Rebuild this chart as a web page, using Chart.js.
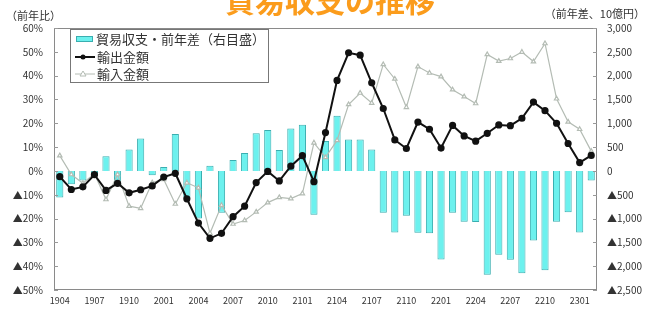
<!DOCTYPE html>
<html>
<head>
<meta charset="utf-8">
<script src="https://cdn.jsdelivr.net/npm/chart.js@4/dist/chart.umd.min.js"></script>
<style>
html, body { margin: 0; padding: 0; background: #fff; }
#wrap { position: relative; width: 657px; height: 309px; }
</style>
</head>
<body>
<div id="wrap"><canvas id="tradeChart" width="657" height="309"></canvas></div>
<script>
var months = [
    '1904','1905','1906','1907','1908','1909','1910','1911','1912',
    '2001','2002','2003','2004','2005','2006','2007','2008','2009','2010','2011','2012',
    '2101','2102','2103','2104','2105','2106','2107','2108','2109','2110','2111','2112',
    '2201','2202','2203','2204','2205','2206','2207','2208','2209','2210','2211','2212',
    '2301','2302'
];

// 輸出金額 前年比 (%)
var exportsYoY = [
    -2.4, -7.8, -6.7, -1.6, -8.2, -5.2, -9.2, -7.9, -6.3,
    -2.6, -1.0, -11.7, -21.9, -28.3, -26.2, -19.2, -14.8, -4.9, -0.2, -4.2, 2.0,
    6.4, -4.5, 16.1, 38.0, 49.6, 48.6, 37.0, 26.2, 13.0, 9.4, 20.5, 17.5,
    9.6, 19.1, 14.7, 12.5, 15.8, 19.3, 19.0, 22.1, 28.9, 25.3, 20.0, 11.5,
    3.5, 6.5
];

// 輸入金額 前年比 (%)
var importsYoY = [
    6.4, -1.5, -5.2, -1.2, -12.0, -1.5, -14.8, -15.7, -4.9,
    -3.6, -13.9, -5.0, -7.1, -26.2, -14.4, -22.3, -20.8, -17.2, -13.3, -11.1, -11.6,
    -9.5, 11.8, 5.7, 12.8, 27.9, 32.7, 28.5, 44.7, 38.6, 26.7, 43.8, 41.1,
    39.6, 34.1, 31.2, 28.3, 48.9, 46.1, 47.2, 49.9, 45.9, 53.5, 30.3, 20.6,
    17.5, 8.3
];

// 貿易収支 前年差 (10億円, 右目盛)
var balanceDiff = [
    -560, -280, -200, -110, 310, -310, 450, 680, -90,
    80, 775, -560, -1000, 110, -880, 230, 375, 790, 860, 440, 890,
    970, -920, 630, 1160, 660, 660, 450, -880, -1295, -940, -1300, -1310,
    -1860, -880, -1065, -1070, -2180, -1760, -1865, -2150, -1460, -2085, -1065, -870,
    -1295, -200
];

var leftTicks = { min: -50, max: 60, step: 10 };
var rightTicks = { min: -2500, max: 3000, step: 500 };

var FONT = '"Noto Sans CJK JP", "Noto Sans", sans-serif';
var TEXT = '#333';
var BAR_FILL = '#6cf1ee';
var BAR_EDGE = '#3aaeb0';
var EXP_COL = '#111';
var IMP_COL = '#b4bcb4';

function fmtLeft(v) {
    return v < 0 ? '\u25B2' + Math.abs(v) + '%' : v + '%';
}
function fmtRight(v) {
    var s = Math.abs(v).toLocaleString('en-US');
    return v < 0 ? '\u25B2' + s : s;
}

// frame, inward ticks, title, unit labels and legend
var decor = {
    id: 'decor',
    afterDraw: function(chart) {
        var ctx = chart.ctx, a = chart.chartArea;
        ctx.save();
        ctx.strokeStyle = '#8a8a8a';
        ctx.lineWidth = 1;
        ctx.strokeRect(a.left + 0.5, a.top + 0.5, a.right - a.left - 1, a.bottom - a.top - 1);

        ctx.strokeStyle = '#999';
        chart.scales.y.ticks.forEach(function(t) {
            var y = Math.round(chart.scales.y.getPixelForValue(t.value)) + 0.5;
            ctx.beginPath(); ctx.moveTo(a.left, y); ctx.lineTo(a.left + 4, y); ctx.stroke();
        });
        chart.scales.y1.ticks.forEach(function(t) {
            var y = Math.round(chart.scales.y1.getPixelForValue(t.value)) + 0.5;
            ctx.beginPath(); ctx.moveTo(a.right - 4, y); ctx.lineTo(a.right, y); ctx.stroke();
        });

        // title, cut by the top edge as in the source
        ctx.fillStyle = '#fb9c1c';
        ctx.font = 'bold 30px ' + FONT;
        ctx.textAlign = 'center';
        ctx.textBaseline = 'alphabetic';
        ctx.fillText('貿易収支の推移', 330, 12);

        ctx.fillStyle = TEXT;
        ctx.font = '11px ' + FONT;
        ctx.textBaseline = 'middle';
        ctx.textAlign = 'left';
        ctx.fillText('（前年比）', 6, 16);
        ctx.textAlign = 'right';
        ctx.fillText('（前年差、10億円）', 645, 14);

        // legend box
        var lx = 70, ly = 29, lw = 198, lh = 53;
        ctx.fillStyle = '#fff';
        ctx.fillRect(lx, ly, lw, lh);
        ctx.strokeStyle = '#777';
        ctx.strokeRect(lx + 0.5, ly + 0.5, lw, lh);

        ctx.font = '13px ' + FONT;
        ctx.textAlign = 'left';
        ctx.fillStyle = TEXT;
        var ds = chart.data.datasets;
        var rows = [39, 57, 74];

        ctx.fillStyle = BAR_FILL;
        ctx.fillRect(76, rows[0] - 3, 17, 6);
        ctx.strokeStyle = BAR_EDGE;
        ctx.strokeRect(76.5, rows[0] - 2.5, 16, 5);

        ctx.strokeStyle = EXP_COL; ctx.lineWidth = 2;
        ctx.beginPath(); ctx.moveTo(75, rows[1]); ctx.lineTo(95, rows[1]); ctx.stroke();
        ctx.fillStyle = EXP_COL;
        ctx.beginPath(); ctx.arc(83, rows[1], 2.5, 0, Math.PI * 2); ctx.fill();

        ctx.strokeStyle = IMP_COL; ctx.lineWidth = 1;
        ctx.beginPath(); ctx.moveTo(75, rows[2]); ctx.lineTo(95, rows[2]); ctx.stroke();
        ctx.fillStyle = '#fff';
        ctx.beginPath(); ctx.moveTo(83, rows[2] - 3); ctx.lineTo(86, rows[2] + 2); ctx.lineTo(80, rows[2] + 2); ctx.closePath();
        ctx.fill(); ctx.stroke();

        ctx.fillStyle = TEXT;
        ctx.fillText(ds[0].label, 96, rows[0]);
        ctx.fillText(ds[1].label, 97, rows[1]);
        ctx.fillText(ds[2].label, 97, rows[2]);
        ctx.restore();
    }
};

new Chart(document.getElementById('tradeChart'), {
    data: {
        labels: months,
        datasets: [
            {
                type: 'bar',
                label: '貿易収支・前年差（右目盛）',
                data: balanceDiff,
                yAxisID: 'y1',
                backgroundColor: BAR_FILL,
                borderColor: BAR_EDGE,
                borderWidth: 1,
                barPercentage: 0.62,
                categoryPercentage: 1,
                order: 3
            },
            {
                type: 'line',
                label: '輸出金額',
                data: exportsYoY,
                yAxisID: 'y',
                borderColor: EXP_COL,
                borderWidth: 2,
                pointRadius: 2.6,
                pointBackgroundColor: EXP_COL,
                pointBorderColor: EXP_COL,
                tension: 0,
                order: 1
            },
            {
                type: 'line',
                label: '輸入金額',
                data: importsYoY,
                yAxisID: 'y',
                borderColor: IMP_COL,
                borderWidth: 1.2,
                pointStyle: 'triangle',
                pointRadius: 2.5,
                pointBackgroundColor: '#fff',
                pointBorderColor: IMP_COL,
                tension: 0,
                order: 2
            }
        ]
    },
    options: {
        responsive: false,
        animation: false,
        devicePixelRatio: 1,
        layout: { padding: { top: 28, left: 0, right: 0, bottom: 0 } },
        plugins: {
            legend: { display: false },
            title: { display: false },
            tooltip: { enabled: false }
        },
        scales: {
            x: {
                offset: true,
                grid: { display: false, drawTicks: false },
                border: { display: false },
                ticks: {
                    autoSkip: false,
                    maxRotation: 0,
                    padding: 5,
                    color: TEXT,
                    font: { family: FONT, size: 9 },
                    callback: function(v, i) { return i % 3 === 0 ? months[i] : ''; }
                },
                afterFit: function(s) { s.height = 19; }
            },
            y: {
                position: 'left',
                min: leftTicks.min,
                max: leftTicks.max,
                grid: { display: false, drawTicks: false },
                border: { display: false },
                ticks: {
                    stepSize: leftTicks.step,
                    padding: 11,
                    color: TEXT,
                    font: { family: FONT, size: 10 },
                    callback: fmtLeft
                },
                afterFit: function(s) { s.width = 54; }
            },
            y1: {
                position: 'right',
                min: rightTicks.min,
                max: rightTicks.max,
                grid: { display: false, drawTicks: false },
                border: { display: false },
                ticks: {
                    stepSize: rightTicks.step,
                    padding: 10,
                    color: TEXT,
                    font: { family: FONT, size: 10 },
                    callback: fmtRight
                },
                afterFit: function(s) { s.width = 60; }
            }
        }
    },
    plugins: [decor]
});
</script>
</body>
</html>
